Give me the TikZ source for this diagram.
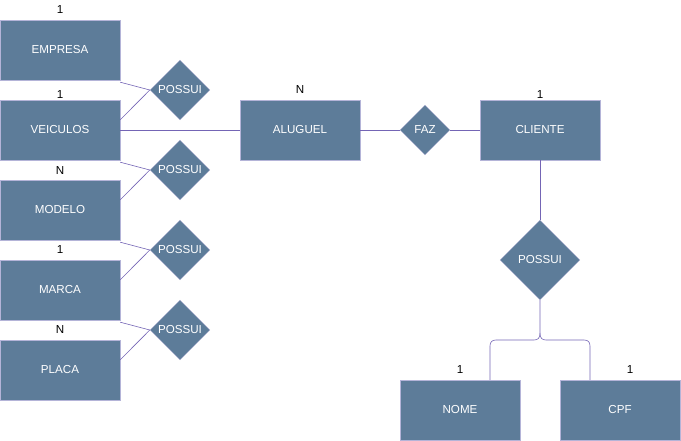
\documentclass[tikz,border=0pt]{standalone}
\usepackage{fontspec}
\setmainfont{Liberation Sans}
\usetikzlibrary{shapes.geometric}
\definecolor{boxfill}{HTML}{5D7C99}
\definecolor{boxline}{HTML}{B4B4D8}
\definecolor{conn}{HTML}{7465B5}
\tikzset{
  ent/.style={rectangle, draw=boxline, fill=boxfill, minimum width=120pt, minimum height=60pt, inner sep=0pt, text=white, font=\fontsize{11.6}{13}\selectfont},
  rel/.style={diamond, draw=boxline, fill=boxfill, inner sep=0pt, text=white, font=\fontsize{11.6}{13}\selectfont, aspect=1},
  card/.style={font=\fontsize{11.6}{13}\selectfont, text=black, inner sep=0pt},
  link/.style={draw=conn, line width=0.6pt}
}
\begin{document}
\begin{tikzpicture}[x=1pt,y=-1pt]
\useasboundingbox (0,0) rectangle (681,441);
% entities
\node[ent] (empresa) at (60,50) {EMPRESA};
\node[ent] (veiculos) at (60,130) {VEICULOS};
\node[ent] (modelo) at (60,210) {MODELO};
\node[ent] (marca) at (60,290) {MARCA};
\node[ent] (placa) at (60,370) {PLACA};
\node[ent] (aluguel) at (300,130) {ALUGUEL};
\node[ent] (cliente) at (540,130) {CLIENTE};
\node[ent] (nome) at (460,410) {NOME};
\node[ent] (cpf) at (620,410) {CPF};
% relationships
\node[rel, minimum width=60pt, minimum height=60pt] (r1) at (180,90) {POSSUI};
\node[rel, minimum width=60pt, minimum height=60pt] (r2) at (180,170) {POSSUI};
\node[rel, minimum width=60pt, minimum height=60pt] (r3) at (180,250) {POSSUI};
\node[rel, minimum width=60pt, minimum height=60pt] (r4) at (180,330) {POSSUI};
\node[rel, minimum width=50pt, minimum height=50pt] (faz) at (425,130) {FAZ};
\node[rel, minimum width=80pt, minimum height=80pt] (r5) at (540,260) {POSSUI};
% cardinalities
\node[card] (c1) at (60,10) {1};
\node[card] (c2) at (60,95) {1};
\node[card] (c3) at (60,171) {N};
\node[card] (c4) at (60,250) {1};
\node[card] (c5) at (60,330) {N};
\node[card] (c6) at (300,90) {N};
\node[card] (c7) at (540,95) {1};
\node[card] (c8) at (460,370) {1};
\node[card] (c9) at (630,370) {1};
% connectors
\draw[link] ([yshift=-2pt]empresa.south east) -- (r1.west);
\draw[link] ([yshift=-20pt]veiculos.north east) -- (r1.west);
\draw[link] ([yshift=-2pt]veiculos.south east) -- (r2.west);
\draw[link] ([yshift=-20pt]modelo.north east) -- (r2.west);
\draw[link] ([yshift=-2pt]modelo.south east) -- (r3.west);
\draw[link] ([yshift=-20pt]marca.north east) -- (r3.west);
\draw[link] ([yshift=-2pt]marca.south east) -- (r4.west);
\draw[link] ([yshift=-20pt]placa.north east) -- (r4.west);
\draw[link] (veiculos.east) -- (aluguel.west);
\draw[link] (aluguel.east) -- (faz.west);
\draw[link] (faz.east) -- (cliente.west);
\draw[link] (cliente.south) -- (r5.north);
\coordinate (split) at (540,333);
\draw[link] (r5.south) -- (split)
  .. controls (540,338) and (538,340) .. (534,340) -- (496,340)
  .. controls (492,340) and (490,342) .. (490,346) -- (nome.north -| 490,0);
\draw[link] (split)
  .. controls (540,338) and (542,340) .. (546,340) -- (584,340)
  .. controls (588,340) and (590,342) .. (590,346) -- (cpf.north -| 590,0);
\end{tikzpicture}
\end{document}
